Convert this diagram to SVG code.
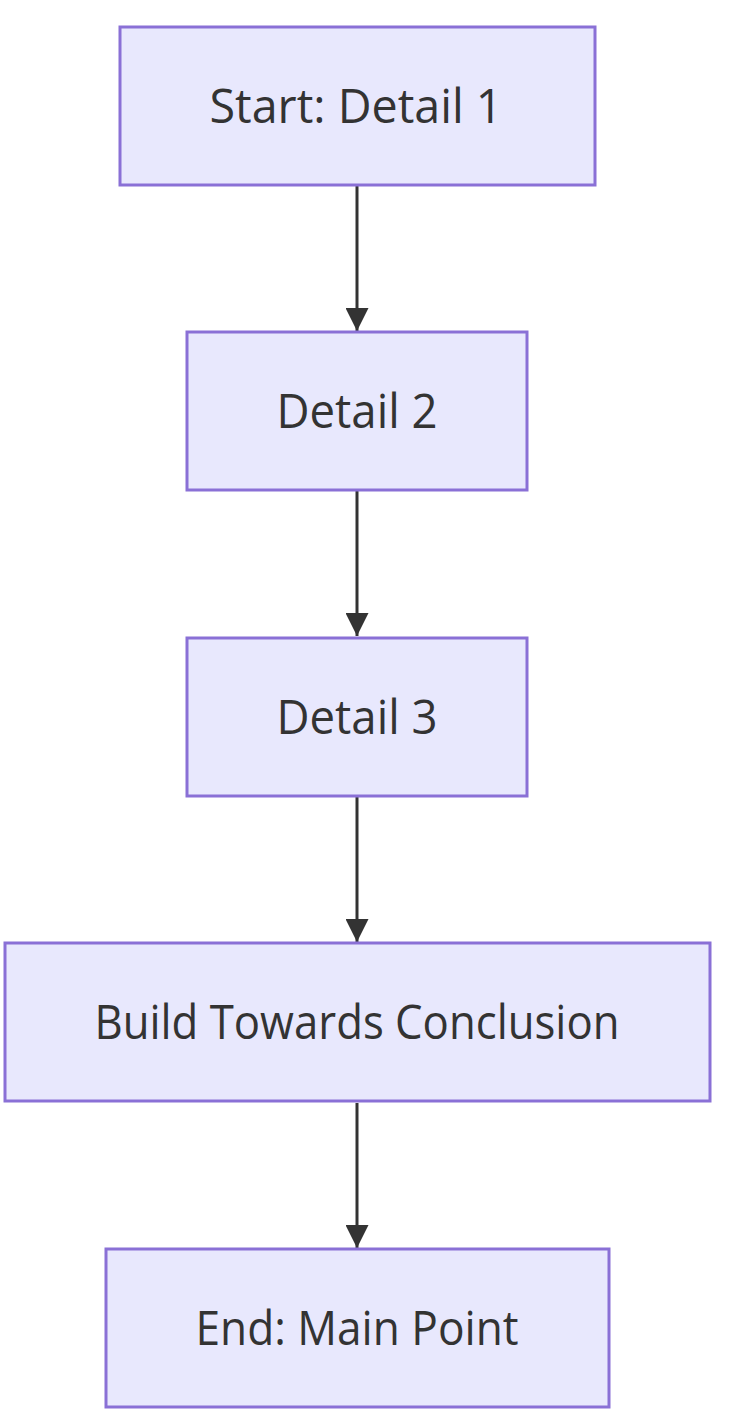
<svg xmlns="http://www.w3.org/2000/svg" width="742" height="1422" viewBox="0 0 742 1422">
<style>
.node rect{fill:#e8e8fd;stroke:#8a70d6;stroke-width:3}
.node text{font-family:"Open Sans","DejaVu Sans",sans-serif;font-size:47px;fill:#333333;text-anchor:middle}
.edge{stroke:#333333;stroke-width:3;fill:none}
</style>
<defs>
<marker id="arr" viewBox="0 0 10 10" refX="10" refY="5" markerUnits="userSpaceOnUse" markerWidth="23" markerHeight="23" orient="auto">
<path d="M0,0 L10,5 L0,10 z" fill="#333333"/>
</marker>
</defs>
<rect width="742" height="1422" fill="#ffffff"/>
<g id="connectors">
<path class="edge" d="M357,186 L357,331" marker-end="url(#arr)"/>
<path class="edge" d="M357,491 L357,636" marker-end="url(#arr)"/>
<path class="edge" d="M357,797 L357,942" marker-end="url(#arr)"/>
<path class="edge" d="M357,1103 L357,1248" marker-end="url(#arr)"/>
</g>
<g id="n1" class="node"><rect x="120" y="27" width="475" height="158"/><text x="356" y="123" textLength="293" lengthAdjust="spacingAndGlyphs">Start: Detail 1</text></g>
<g id="n2" class="node"><rect x="187" y="332" width="340" height="158"/><text x="357" y="428" textLength="161" lengthAdjust="spacingAndGlyphs">Detail 2</text></g>
<g id="n3" class="node"><rect x="187" y="638" width="340" height="158"/><text x="357" y="734" textLength="161" lengthAdjust="spacingAndGlyphs">Detail 3</text></g>
<g id="n4" class="node"><rect x="5" y="943" width="705" height="158"/><text x="357" y="1039" textLength="525" lengthAdjust="spacingAndGlyphs">Build Towards Conclusion</text></g>
<g id="n5" class="node"><rect x="106" y="1249" width="503" height="158"/><text x="357" y="1345" textLength="323" lengthAdjust="spacingAndGlyphs">End: Main Point</text></g>
</svg>
